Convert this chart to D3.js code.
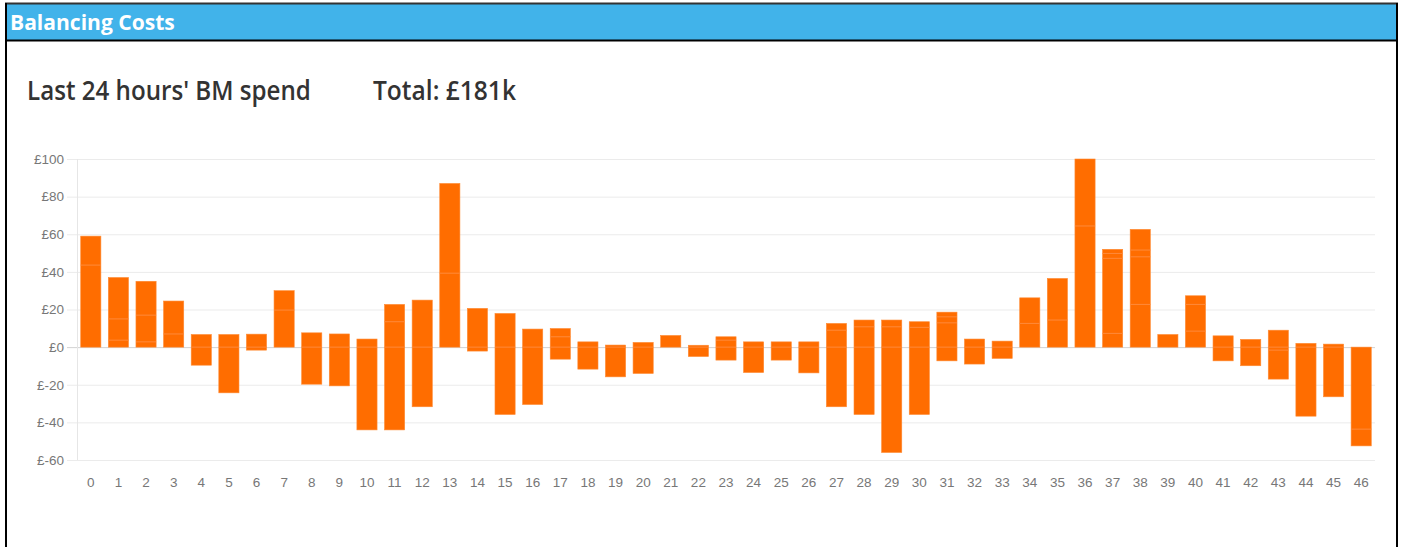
<!DOCTYPE html>
<html>
<head>
<meta charset="utf-8">
<script src="https://cdn.jsdelivr.net/npm/d3@7"></script>
<style>
  html, body { margin: 0; padding: 0; background: #fff; }
  svg { display: block; }
</style>
</head>
<body>
<svg id="chart" width="1401" height="547"></svg>
<script>
// ---- data ----
const categories = ["0","1","2","3","4","5","6","7","8","9","10","11","12","13","14","15","16","17","18","19","20","21","22","23","24","25","26","27","28","29","30","31","32","33","34","35","36","37","38","39","40","41","42","43","44","45","46"];
const highs = [59, 37, 35, 24.5, 6.7, 6.7, 6.9, 30, 7.6, 7, 4.3, 22.7, 25, 87, 20.6, 17.9, 9.6, 9.9, 2.8, 1.1, 2.5, 6.2, 1, 5.5, 2.8, 2.8, 2.8, 12.6, 14.4, 14.4, 13.5, 18.6, 4.3, 3.2, 26.2, 36.5, 100, 52, 62.6, 6.7, 27.3, 6, 4.1, 9, 2, 1.6, 0];
const lows = [0, 0, 0, 0, -9.6, -24.3, -1.6, 0, -19.7, -20.6, -44, -44, -31.7, 0, -2.1, -35.8, -30.5, -6.4, -11.7, -15.8, -14, 0, -5, -6.9, -13.5, -6.9, -13.7, -31.7, -35.8, -56, -35.8, -7.3, -9, -6, 0, 0, 0, 0, 0, 0, 0, -7.3, -9.9, -17, -36.7, -26.4, -52.5];
// internal segment boundaries (stacked parts) within each bar
const splits = [[43.6], [15, 3.7], [17, 2.8], [7], [], [], [], [19.7], [], [], [], [13.5], [], [39.3], [], [], [], [5.5], [], [], [], [], [], [3.7], [], [], [], [9], [10.8], [10.8], [10.5], [16.1, 12.9], [], [], [12.6], [14.4], [64.4], [49.8, 47.2, 7.3], [51.6, 48, 22.7], [], [22.7, 8.5], [], [], [-1.6], [], [], [-43.6]];
const yTicks = [-60, -40, -20, 0, 20, 40, 60, 80, 100];
const headerTitle = "Balancing Costs";
const subTitle = "Last 24 hours' BM spend";
const totalLabel = "Total: £181k";

// ---- drawing ----
const svg = d3.select("#chart");
const W = 1401, H = 547;

// frame
svg.append("rect").attr("x", 5).attr("y", 3).attr("width", 1392).attr("height", 38)
  .attr("fill", "#41b3ea");
svg.append("line").attr("x1", 5).attr("x2", 1398).attr("y1", 3.5).attr("y2", 3.5)
  .attr("stroke", "#333").attr("stroke-width", 2);
svg.append("line").attr("x1", 5).attr("x2", 1398).attr("y1", 40.5).attr("y2", 40.5)
  .attr("stroke", "#000").attr("stroke-width", 2);
svg.append("line").attr("x1", 6).attr("x2", 6).attr("y1", 3).attr("y2", H)
  .attr("stroke", "#000").attr("stroke-width", 2);
svg.append("line").attr("x1", 1397).attr("x2", 1397).attr("y1", 3).attr("y2", H)
  .attr("stroke", "#000").attr("stroke-width", 2);

function fitText(sel, targetW) {
  const w = sel.node().getComputedTextLength();
  const x = +sel.attr("x"), y = +sel.attr("y");
  const s = targetW / w;
  sel.attr("x", 0).attr("y", 0).attr("transform", `translate(${x},${y}) scale(${s},1)`);
}

const ht = svg.append("text").attr("x", 10).attr("y", 30)
  .attr("fill", "#fff").attr("font-family", "'Open Sans', Lato, sans-serif")
  .attr("font-weight", "bold").attr("font-size", 21).text(headerTitle);
fitText(ht, 165);

const st = svg.append("text").attr("x", 27).attr("y", 100)
  .attr("fill", "#333").attr("font-family", "'Open Sans', sans-serif")
  .attr("font-weight", 600).attr("font-size", 27).text(subTitle);
fitText(st, 284);
const tt = svg.append("text").attr("x", 373).attr("y", 100)
  .attr("fill", "#333").attr("font-family", "'Open Sans', sans-serif")
  .attr("font-weight", 600).attr("font-size", 27).text(totalLabel);
fitText(tt, 143);

// scales
const x = d3.scaleBand().domain(categories).range([77, 1375]).paddingInner(0.27).paddingOuter(0.135);
const y = d3.scaleLinear().domain([-60, 100]).range([460, 159]);

// y axis with grid
const yAxis = svg.append("g").attr("transform", "translate(77,0)")
  .call(d3.axisLeft(y).tickValues(yTicks).tickSize(10).tickPadding(3)
    .tickFormat(d => "£" + d));
yAxis.select(".domain").remove();
yAxis.selectAll(".tick line").attr("x1", -10).attr("x2", 1298)
  .attr("stroke", d => d === 0 ? "#d2d2d2" : "#ebebeb");
yAxis.selectAll(".tick text").attr("fill", "#777")
  .attr("font-family", "'Liberation Sans', Arial, sans-serif").attr("font-size", 13.5);
svg.append("line").attr("x1", 77.5).attr("x2", 77.5).attr("y1", y(100)).attr("y2", y(-60))
  .attr("stroke", "#e6e6e6");

// x axis
const xAxis = svg.append("g").attr("transform", `translate(0,${y(-60)})`)
  .call(d3.axisBottom(x).tickSize(0).tickPadding(17));
xAxis.select(".domain").remove();
xAxis.selectAll(".tick text").attr("fill", "#777")
  .attr("font-family", "'Liberation Sans', Arial, sans-serif").attr("font-size", 13.5);

// bars
const barColor = "#ff6d00";
const bars = svg.append("g");
categories.forEach((c, i) => {
  bars.append("rect")
    .attr("x", x(c)).attr("width", x.bandwidth())
    .attr("y", y(highs[i])).attr("height", Math.max(0, y(lows[i]) - y(highs[i])))
    .attr("fill", barColor)
    .attr("stroke", "#ff8a33").attr("stroke-width", 0.6);
  const lines = splits[i].slice();
  if (highs[i] > 0 && lows[i] < 0) lines.push(0);
  lines.forEach(v => {
    bars.append("line")
      .attr("x1", x(c)).attr("x2", x(c) + x.bandwidth())
      .attr("y1", y(v)).attr("y2", y(v))
      .attr("stroke", "#ff8a3a").attr("stroke-width", 1);
  });
});
</script>
</body>
</html>
